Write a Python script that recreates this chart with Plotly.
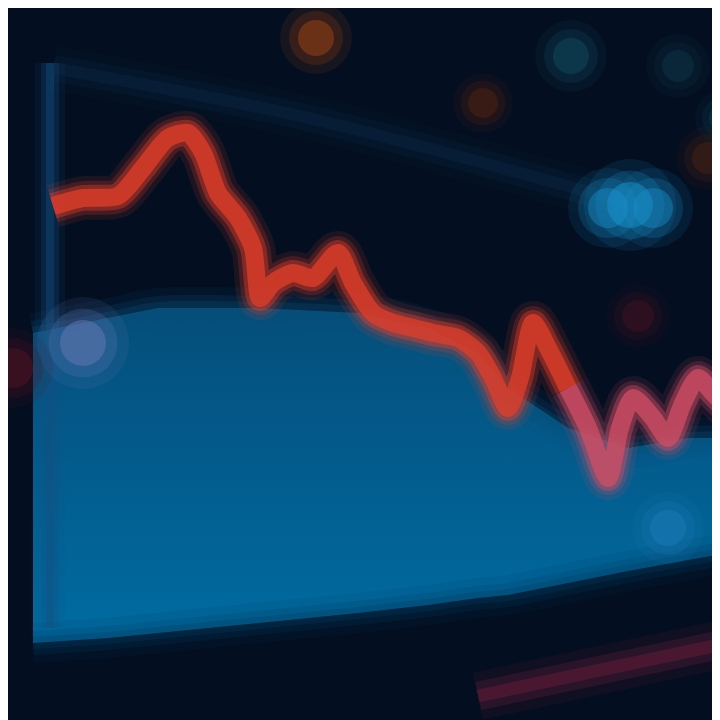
import plotly.graph_objects as go

# --- data (x position, height) ---
red_x = [45, 75, 110, 135, 160, 180, 195, 210, 230, 245, 252, 265, 285, 305, 330, 345, 365, 385, 405, 425, 450, 470, 485, 500, 512, 525, 540, 560]
red_y = [522, 530, 532, 560, 590, 595, 575, 535, 510, 480, 430, 445, 455, 450, 475, 445, 415, 405, 400, 395, 390, 375, 350, 320, 350, 405, 380, 340]
pink_x = [560, 580, 600, 612, 625, 645, 660, 675, 690, 705, 720]
pink_y = [340, 300, 250, 300, 330, 310, 290, 325, 350, 335, 320]

area_x = [25, 100, 150, 250, 350, 420, 470, 500, 560, 620, 680, 720]
area_top = [395, 410, 420, 420, 415, 400, 375, 340, 300, 280, 290, 290]
area_bottom = [85, 90, 95, 105, 115, 123, 130, 133, 145, 157, 168, 175]

frame_v_x = [42, 42]
frame_v_y = [665, 100]
frame_d_x = [45, 300, 620]
frame_d_y = [660, 610, 525]

stripe_x = [470, 720]
stripe_y = [32, 85]

dot_x = [308, 475, 563, 670, 600, 622, 645, 700, 715, 630, 660, 75, 5]
dot_y = [690, 625, 672, 662, 520, 523, 520, 570, 610, 412, 200, 385, 360]
dot_s = [36, 30, 36, 32, 40, 46, 40, 32, 28, 32, 36, 46, 40]
dot_c = ['rgb(170,70,20)', 'rgb(90,35,15)', 'rgb(20,80,100)', 'rgb(15,55,75)',
         'rgb(25,140,200)', 'rgb(25,150,210)', 'rgb(25,140,200)', 'rgb(80,35,20)', 'rgb(15,65,85)',
         'rgb(70,20,30)', 'rgb(30,125,185)', 'rgb(110,125,185)', 'rgb(90,20,30)']

fig = go.Figure()

# blue area
fig.add_trace(go.Scatter(x=area_x, y=area_bottom, mode='lines',
                         line=dict(color='rgba(0,0,0,0)'), showlegend=False))
fig.add_trace(go.Scatter(x=area_x, y=area_top, mode='lines', fill='tonexty',
                         line=dict(color='rgba(0,0,0,0)'),
                         fillgradient=dict(type='vertical',
                                           colorscale=[[0, 'rgb(0,108,162)'], [1, 'rgb(5,78,122)']]),
                         showlegend=False))
# soft edges of area
for w, op in [(40, 0.12), (24, 0.2), (12, 0.3)]:
    fig.add_trace(go.Scatter(x=area_x, y=area_top, mode='lines',
                             line=dict(color=f'rgba(8,78,120,{op})', width=w, shape='spline'),
                             showlegend=False))
    fig.add_trace(go.Scatter(x=area_x, y=area_bottom, mode='lines',
                             line=dict(color=f'rgba(2,60,95,{op})', width=w, shape='spline'),
                             showlegend=False))

# frame lines
for w, op in [(30, 0.12), (18, 0.25), (8, 0.4)]:
    fig.add_trace(go.Scatter(x=frame_v_x, y=frame_v_y, mode='lines',
                             line=dict(color=f'rgba(20,80,130,{op})', width=w), showlegend=False))
    fig.add_trace(go.Scatter(x=frame_d_x, y=frame_d_y, mode='lines',
                             line=dict(color=f'rgba(15,55,90,{op * 0.6})', width=w * 1.5, shape='spline'),
                             showlegend=False))
    fig.add_trace(go.Scatter(x=stripe_x, y=stripe_y, mode='lines',
                             line=dict(color=f'rgba(120,30,60,{op})', width=w * 1.6), showlegend=False))

# bokeh dots
for scale, op in [(2.0, 0.12), (1.5, 0.22), (1.0, 0.45)]:
    fig.add_trace(go.Scatter(x=dot_x, y=dot_y, mode='markers',
                             marker=dict(size=[s * scale for s in dot_s], color=dot_c,
                                         opacity=op, line=dict(width=0)),
                             showlegend=False))

# red and pink line with glow
for w, op in [(44, 0.12), (34, 0.2), (26, 0.4), (18, 0.75)]:
    fig.add_trace(go.Scatter(x=red_x, y=red_y, mode='lines',
                             line=dict(color=f'rgba(225,62,42,{op})', width=w, shape='spline', smoothing=0.7),
                             showlegend=False))
    fig.add_trace(go.Scatter(x=pink_x, y=pink_y, mode='lines',
                             line=dict(color=f'rgba(210,78,100,{op})', width=w, shape='spline', smoothing=0.7),
                             showlegend=False))

fig.update_layout(
    width=720, height=720,
    margin=dict(l=0, r=0, t=0, b=0),
    paper_bgcolor='rgb(3,10,24)',
    plot_bgcolor='rgb(3,14,32)',
    xaxis=dict(range=[0, 720], visible=False, fixedrange=True),
    yaxis=dict(range=[0, 720], visible=False, fixedrange=True),
    showlegend=False,
)

fig.write_html("out.html")
